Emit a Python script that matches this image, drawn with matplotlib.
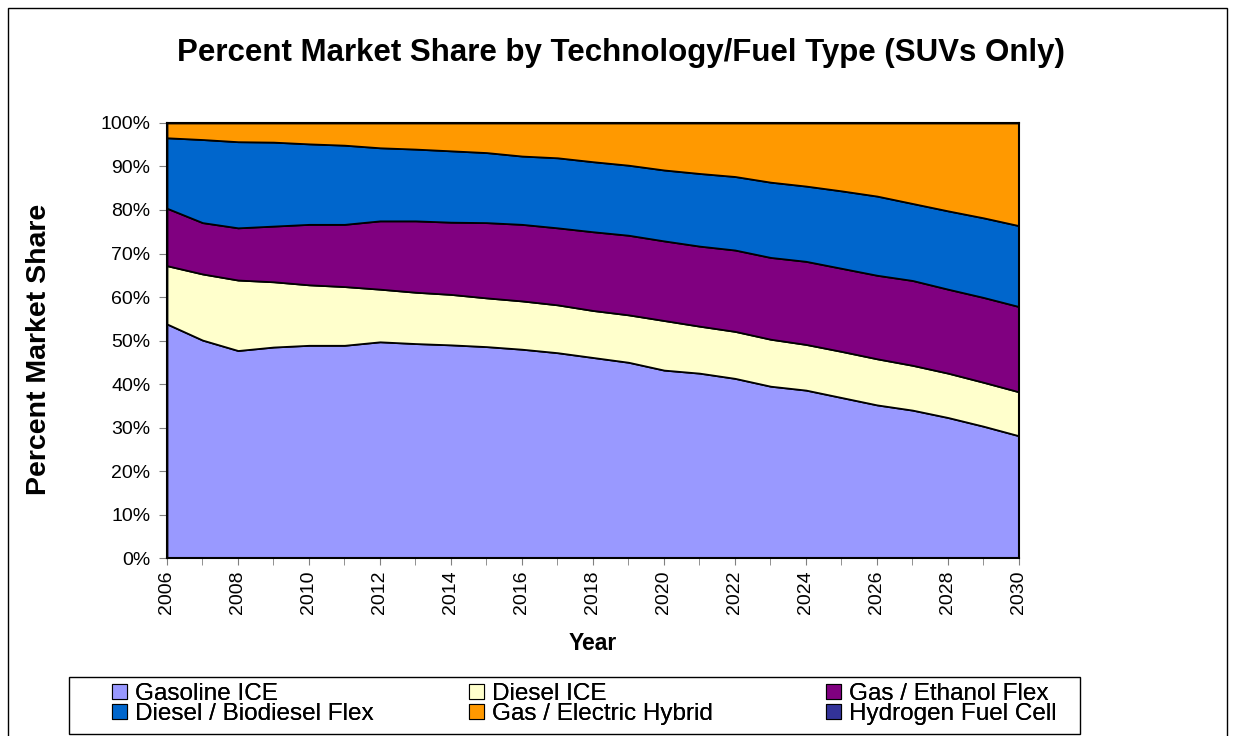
import matplotlib.pyplot as plt
import matplotlib.patches as mpatches
from matplotlib.ticker import MultipleLocator, FuncFormatter

plt.rcParams['font.family'] = ['Liberation Sans', 'DejaVu Sans']

years = list(range(2006, 2031))

# porcentajes por tecnología
gasolina = [53.8, 50.1, 47.7, 48.5, 48.9, 48.9, 49.7, 49.3, 49.0, 48.6, 48.0, 47.2, 46.1,
            45.0, 43.2, 42.5, 41.3, 39.5, 38.6, 36.9, 35.2, 34.0, 32.3, 30.3, 28.1]
diesel = [13.4, 15.2, 16.2, 15.0, 13.9, 13.5, 12.1, 11.8, 11.6, 11.2, 11.1, 11.0, 10.8,
          10.9, 11.4, 10.8, 10.8, 10.8, 10.5, 10.6, 10.6, 10.3, 10.2, 10.1, 10.1]
etanol = [13.2, 11.8, 12.0, 12.8, 13.9, 14.3, 15.7, 16.4, 16.6, 17.3, 17.6, 17.7, 18.1,
          18.3, 18.3, 18.4, 18.7, 18.8, 19.1, 19.1, 19.2, 19.5, 19.3, 19.5, 19.6]
biodiesel = [16.2, 19.1, 19.8, 19.3, 18.5, 18.2, 16.8, 16.5, 16.4, 16.1, 15.7, 16.1, 16.1,
             16.1, 16.3, 16.7, 16.9, 17.3, 17.3, 17.8, 18.2, 17.7, 18.0, 18.3, 18.6]
hibrido = [3.4, 3.8, 4.3, 4.4, 4.8, 5.1, 5.7, 6.0, 6.4, 6.8, 7.6, 8.0, 8.9,
           9.7, 10.8, 11.6, 12.3, 13.6, 14.5, 15.6, 16.8, 18.5, 20.2, 21.8, 23.6]
hidrogeno = [0.0] * 25

etiquetas = ['Gasoline ICE', 'Diesel ICE', 'Gas / Ethanol Flex',
             'Diesel / Biodiesel Flex', 'Gas / Electric Hybrid', 'Hydrogen Fuel Cell']
colores = ['#9999FF', '#FFFFCC', '#800080', '#0066CC', '#FF9900', '#333399']

fig = plt.figure(figsize=(12.35, 7.36), dpi=100)
ax = fig.add_axes([0.1352, 0.2418, 0.6899, 0.5911])

ax.stackplot(years, gasolina, diesel, etanol, biodiesel, hibrido, hidrogeno,
             colors=colores, edgecolor='black', linewidth=1.3)

ax.set_xlim(2006, 2030)
ax.set_ylim(0, 100)
ax.yaxis.set_major_locator(MultipleLocator(10))
ax.yaxis.set_major_formatter(FuncFormatter(lambda v, p: f'{v:.0f}%'))
ax.xaxis.set_major_locator(MultipleLocator(2))
ax.xaxis.set_minor_locator(MultipleLocator(1))
ax.tick_params(axis='x', which='both', direction='out', length=5, color='#808080')
ax.tick_params(axis='y', direction='out', length=6, color='#808080', labelsize=14, pad=6)
ax.tick_params(axis='x', labelsize=14, labelrotation=90, pad=4)
for s in ax.spines.values():
    s.set_linewidth(1.5)

ax.set_xlabel('Year', fontsize=16.5, fontweight='bold')
ax.xaxis.set_label_coords(0.5, -0.170)
ax.set_ylabel('Percent Market Share', fontsize=20.5, fontweight='bold')
ax.yaxis.set_label_coords(-0.135, 0.48)
fig.text(0.503, 1 - 61 / 736, 'Percent Market Share by Technology/Fuel Type (SUVs Only)',
         fontsize=22.5, fontweight='bold', ha='center', va='baseline')

# leyenda: tres columnas de igual ancho, como en Excel
parches = [mpatches.Patch(facecolor=c, edgecolor='black', linewidth=0.8) for c in colores]
col_x = [112 / 1235, 469 / 1235, 826 / 1235]
for j, x0 in enumerate(col_x):
    idx = [j, j + 3]
    leg = fig.legend([parches[i] for i in idx], [etiquetas[i] for i in idx],
                     loc='center left', bbox_to_anchor=(x0, 1 - 704 / 736),
                     fontsize=17.5, frameon=False, handlelength=0.6, handleheight=0.6,
                     handletextpad=0.35, labelspacing=-0.08, borderpad=0.0,
                     borderaxespad=0.0)
    fig.add_artist(leg)

fig.patches.append(mpatches.Rectangle((69 / 1235, 1 - 734 / 736), 1011 / 1235, 57 / 736,
                                      transform=fig.transFigure, fill=False,
                                      edgecolor='black', linewidth=1.0))

# borde exterior del gráfico
fig.patches.append(mpatches.Rectangle((8 / 1235, -0.01), 1219 / 1235, 1 - 8 / 736 + 0.01,
                                      transform=fig.transFigure, fill=False,
                                      edgecolor='black', linewidth=1.0))

fig.savefig('out.png', dpi=100)
